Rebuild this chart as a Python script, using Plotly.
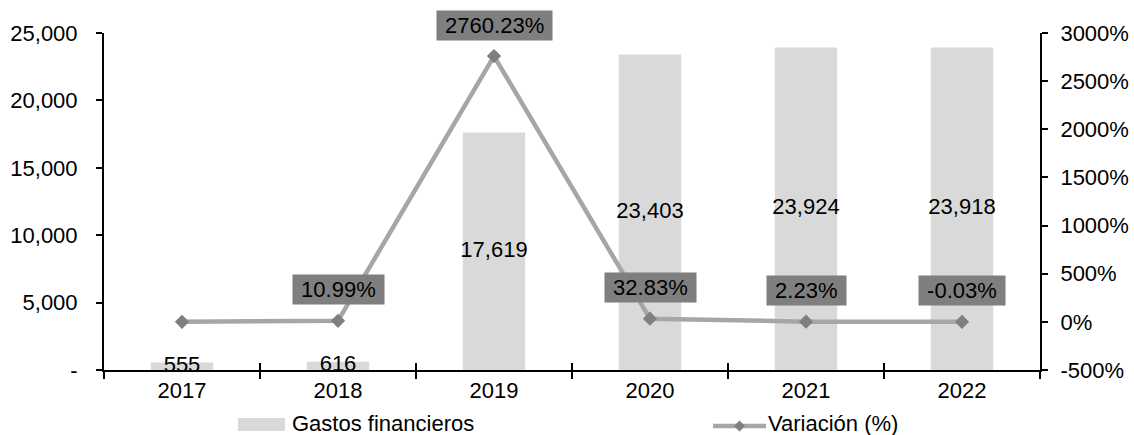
import plotly.graph_objects as go

# Data
years = ["2017", "2018", "2019", "2020", "2021", "2022"]
gastos = [555, 616, 17619, 23403, 23924, 23918]
variacion = [0, 10.99, 2760.23, 32.83, 2.23, -0.03]
variacion_labels = [None, "10.99%", "2760.23%", "32.83%", "2.23%", "-0.03%"]

left_ticks = [0, 5000, 10000, 15000, 20000, 25000]
left_ticktext = ["-", "5,000", "10,000", "15,000", "20,000", "25,000"]
right_ticks = [-500, 0, 500, 1000, 1500, 2000, 2500, 3000]
right_ticktext = [f"{v}%" for v in right_ticks]

FONT = "Arial, Liberation Sans, sans-serif"
FS = 22
BAR_COLOR = "#d9d9d9"
LINE_COLOR = "#a6a6a6"
MARKER_COLOR = "#7f7f7f"
LABEL_BG = "#7f7f7f"

fig = go.Figure()

fig.add_trace(go.Bar(
    x=years, y=gastos, name="Gastos financieros",
    marker=dict(color=BAR_COLOR, line=dict(width=0)),
    width=0.4, yaxis="y", showlegend=False, hoverinfo="skip",
))

# Bar value labels, centred in each bar
fig.add_trace(go.Scatter(
    x=years, y=[g / 2 for g in gastos], mode="text",
    text=[f"{g:,}" for g in gastos], textposition="middle center",
    textfont=dict(family=FONT, size=FS, color="#000000"),
    yaxis="y", showlegend=False, hoverinfo="skip", cliponaxis=False,
))

fig.add_trace(go.Scatter(
    x=years, y=variacion, name="Variación (%)", mode="lines+markers",
    line=dict(color=LINE_COLOR, width=4.5),
    marker=dict(symbol="diamond", size=11, color=MARKER_COLOR),
    yaxis="y2", showlegend=False, hoverinfo="skip", cliponaxis=False,
))

annotations = []
for i, (v, lab) in enumerate(zip(variacion, variacion_labels)):
    if lab is None:
        continue
    annotations.append(dict(
        x=i, y=v, xref="x", yref="y2", text="\u00a0" + lab + "\u00a0",
        showarrow=False, yshift=31, yanchor="middle", xanchor="center",
        bgcolor=LABEL_BG, borderpad=2,
        font=dict(family=FONT, size=FS, color="#000000"),
    ))

# Legend drawn below the plot area
def px_x(p):
    return (p - 104) / 936

def px_y(p):
    return (370 - p) / 337

shapes = []
shapes.append(dict(type="rect", xref="paper", yref="paper",
                   x0=px_x(238), x1=px_x(285), y0=px_y(431), y1=px_y(418),
                   fillcolor=BAR_COLOR, line=dict(width=0)))
shapes.append(dict(type="line", xref="paper", yref="paper",
                   x0=px_x(713), x1=px_x(766), y0=px_y(426), y1=px_y(426),
                   line=dict(color=LINE_COLOR, width=4.5)))
cx, cy, r = 739.5, 426, 5.5
shapes.append(dict(type="path", xref="paper", yref="paper",
                   path=(f"M {px_x(cx - r)} {px_y(cy)} L {px_x(cx)} {px_y(cy - r)} "
                         f"L {px_x(cx + r)} {px_y(cy)} L {px_x(cx)} {px_y(cy + r)} Z"),
                   fillcolor=MARKER_COLOR, line=dict(width=0)))
for lx, txt in [(291, "Gastos financieros"), (767, "Variación (%)")]:
    annotations.append(dict(x=px_x(lx), y=px_y(423), xref="paper", yref="paper",
                            text=txt, showarrow=False, borderpad=0,
                            xanchor="left", yanchor="middle",
                            font=dict(family=FONT, size=FS, color="#000000")))

fig.update_layout(
    width=1134, height=435,
    margin=dict(l=104, r=94, t=33, b=65, pad=0, autoexpand=False),
    paper_bgcolor="white", plot_bgcolor="white",
    font=dict(family=FONT, size=FS, color="#000000"),
    xaxis=dict(
        type="category", categoryorder="array", categoryarray=years,
        range=[-0.5, 5.5], tickson="boundaries", ticks="outside", ticklen=7,
        tickwidth=1.5, tickcolor="#000000", showline=True, linecolor="#000000",
        linewidth=2, showgrid=False, zeroline=False, automargin=False,
        tickfont=dict(family=FONT, size=FS, color="#000000"),
    ),
    xaxis3=dict(
        overlaying="x", anchor="y", range=[-0.5, 5.5],
        tickvals=[i - 0.5 for i in range(len(years) + 1)],
        ticks="inside", ticklen=7, tickwidth=1.5, tickcolor="#000000",
        showticklabels=False, showline=False, showgrid=False, zeroline=False,
        automargin=False,
    ),
    yaxis=dict(
        range=[0, 25000], tickvals=left_ticks, ticktext=left_ticktext,
        ticks="outside", ticklen=6, tickwidth=1.5, tickcolor="#000000",
        showline=True, linecolor="#000000", linewidth=2,
        showgrid=False, zeroline=False, ticklabelstandoff=14, automargin=False,
        tickfont=dict(family=FONT, size=FS, color="#000000"),
    ),
    yaxis2=dict(
        overlaying="y", side="right", anchor="x",
        range=[-500, 3000], tickvals=right_ticks, ticktext=right_ticktext,
        ticks="outside", ticklen=6, tickwidth=1.5, tickcolor="#000000",
        showline=True, linecolor="#000000", linewidth=2,
        showgrid=False, zeroline=False, ticklabelstandoff=8, automargin=False,
        tickfont=dict(family=FONT, size=FS, color="#000000"),
    ),
    annotations=annotations,
    shapes=shapes,
    showlegend=False,
)

# Empty trace so the inside-tick overlay axis is rendered
fig.add_trace(go.Scatter(x=[None], y=[None], xaxis="x3", yaxis="y",
                         showlegend=False, hoverinfo="skip"))

fig.write_html("out.html")
